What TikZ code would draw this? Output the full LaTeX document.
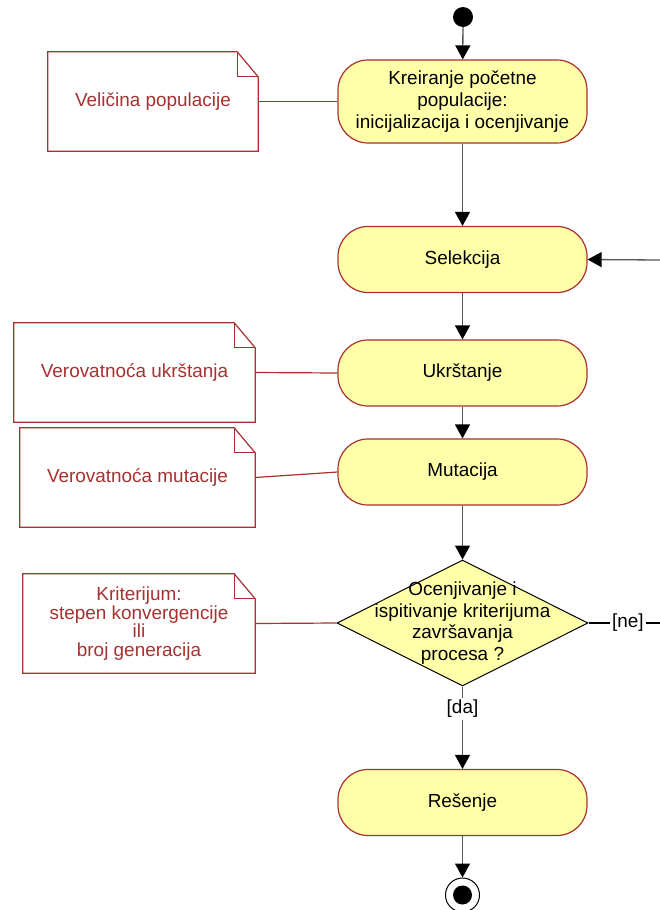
\documentclass[tikz,border=0pt]{standalone}
\usepackage{fontspec}
\setmainfont{Liberation Sans}
\usetikzlibrary{shapes,arrows,positioning,calc,arrows.meta,shapes.geometric}
\definecolor{notered}{RGB}{168,48,48}
\definecolor{actfill}{RGB}{255,255,170}
\definecolor{linegray}{RGB}{85,85,85}

\begin{document}
\begin{tikzpicture}[x=1bp, y=-1bp]

		\tikzstyle{activity} = [draw=notered, rectangle, rounded corners=30bp, minimum width=249bp, minimum height=66bp, align=center, line width=1.2bp, fill=actfill, font=\fontsize{19}{22}\selectfont]
		\tikzstyle{decision} = [draw=black, diamond, minimum width=251bp, minimum height=126bp, inner sep=0pt, line width=1bp, fill=actfill]
		\tikzstyle{note} = [rectangle, minimum height=99bp, inner sep=0pt, align=center, text=notered, font=\fontsize{19}{18.5}\selectfont]
		\tikzstyle{notedraw} = [draw=notered, line width=1.2bp]
		\tikzstyle{flow} = [-{Triangle[length=14bp, width=15bp, black]}, line width=1.3bp, draw=linegray]
		\tikzstyle{guard} = [fill=white, inner sep=2pt, font=\fontsize{19}{22}\selectfont]

		\useasboundingbox (0,0) rectangle (660,910);

		\node[circle, fill=black, minimum size=20bp, inner sep=0pt] (start) at (463,17) {};

		\node[activity, minimum height=83bp] (create) at (462.5,101.5) {Kreiranje početne\\populacije:\\inicijalizacija i ocenjivanje};
		\node[activity] (sel) at (462.5,259.5) {Selekcija};
		\node[activity] (cross) at (462.5,373) {Ukrštanje};
		\node[activity] (mut) at (462.5,472) {Mutacija};

		\node[decision] (test) at (462.5,623) {};
		\node[align=center, font=\fontsize{19}{21.7}\selectfont] (test_txt) at (test) {Ocenjivanje i\\ispitivanje kriterijuma\\završavanja\\procesa ?};

		\node[activity] (sol) at (462.5,802.5) {Rešenje};

		\node[circle, draw=black, line width=1bp, minimum size=34bp, inner sep=0pt] (stop) at (462.5,895) {};
		\node[circle, fill=black, minimum size=19bp, inner sep=0pt] at (stop) {};

		% notes
		\node[note, minimum width=210bp] (n_size) at (153,101.5) {Veličina populacije};
		\node[note, minimum width=241bp] (n_cross) at (134.5,372.5) {Verovatnoća ukrštanja};
		\node[note, minimum width=235bp] (n_mut) at (137.5,477.5) {Verovatnoća mutacije};
		\node[note, minimum width=232bp] (n_crit) at (139,623.5) {Kriterijum:\\stepen konvergencije\\ili\\broj generacija};

		\foreach \n in {n_size, n_cross, n_mut, n_crit} {
			\draw[notedraw] (\n.north west) -- ([xshift=-21bp]\n.north east) -- ([yshift=-25bp]\n.north east) -- (\n.south east) -- (\n.south west) -- cycle;
			\draw[notedraw] ([xshift=-21bp]\n.north east) |- ([yshift=-25bp]\n.north east);
		}

		\draw[notedraw] (n_size.east) -- (create.west);
		\draw[notedraw] (n_cross.east) -- (cross.west);
		\draw[notedraw] (n_mut.east) -- (mut.west);
		\draw[notedraw] (n_crit.east) -- (test.west);

		% flow
		\coordinate (loop_in) at (660,260);
		\coordinate (loop_out) at (660,623);

		\draw[flow] (start) -- (create);
		\draw[flow] (create) -- (sel);
		\draw[flow] (sel) -- (cross);
		\draw[flow] (cross) -- (mut);
		\draw[flow] (mut) -- (test.north);
		\draw[flow] (test.south) -- node[guard, pos=0.27] {[da]} (sol);
		\draw[flow] (sol) -- (stop);
		\draw[line width=1.3bp, draw=black] (test.east) -- node[guard, pos=0.55] {[ne]} (loop_out);
		\draw[flow] (loop_in) -- (sel.east);

	\end{tikzpicture}
\end{document}
